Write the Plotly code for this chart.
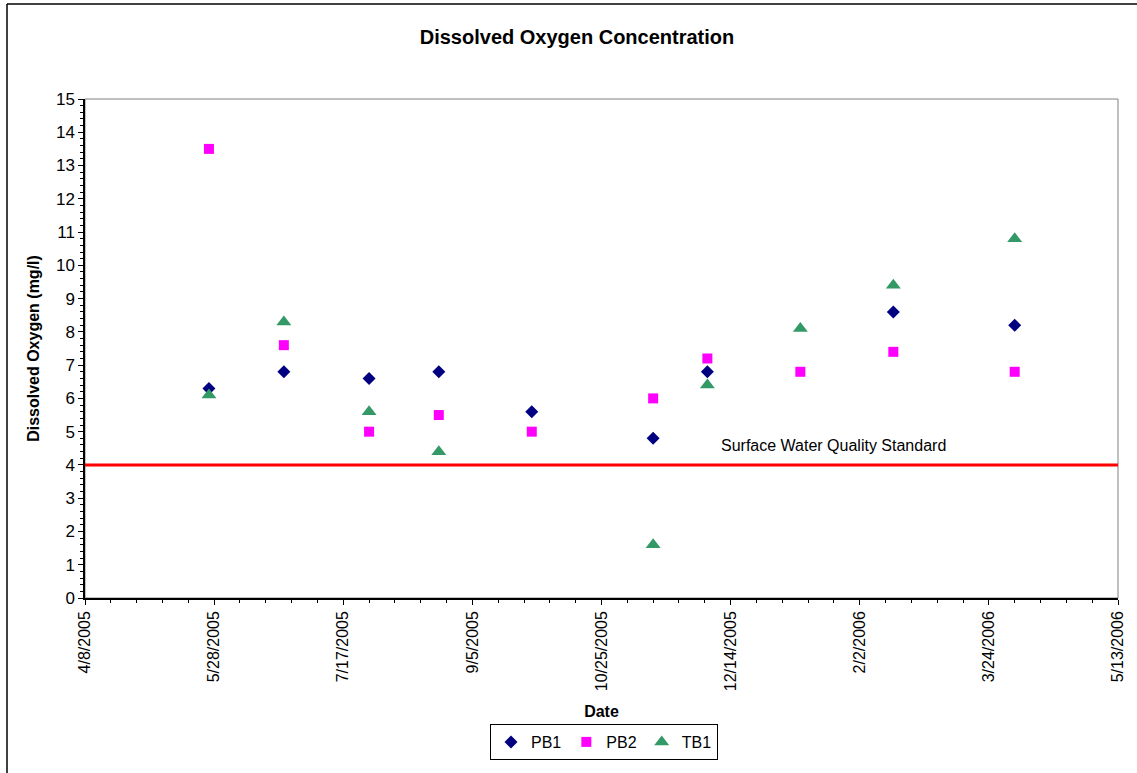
import plotly.graph_objects as go

dates = ["2005-05-26", "2005-06-24", "2005-07-27", "2005-08-23", "2005-09-28",
         "2005-11-14", "2005-12-05", "2006-01-10", "2006-02-15", "2006-04-03"]
pb1 = [6.3, 6.8, 6.6, 6.8, 5.6, 4.8, 6.8, None, 8.6, 8.2]
pb2 = [13.5, 7.6, 5.0, 5.5, 5.0, 6.0, 7.2, 6.8, 7.4, 6.8]
tb1 = [6.1, 8.3, 5.6, 4.4, None, 1.6, 6.4, 8.1, 9.4, 10.8]
standard = 4.0
standard_label = "Surface Water Quality Standard"

x_start = "2005-04-08"
x_end = "2006-05-13"
tick_dates = ["2005-04-08", "2005-05-28", "2005-07-17", "2005-09-05", "2005-10-25",
              "2005-12-14", "2006-02-02", "2006-03-24", "2006-05-13"]

FONT = "Liberation Sans, Arial, sans-serif"

fig = go.Figure()
fig.add_trace(go.Scatter(x=dates, y=pb1, mode="markers", name="PB1",
                         marker=dict(symbol="diamond", size=10, color="#000080")))
fig.add_trace(go.Scatter(x=dates, y=pb2, mode="markers", name="PB2",
                         marker=dict(symbol="square", size=10, color="#FF00FF")))
fig.add_trace(go.Scatter(x=dates, y=tb1, mode="markers", name="TB1",
                         marker=dict(symbol="triangle-up", size=13, color="#339966")))

# standard line across the plot
fig.add_shape(type="line", xref="paper", yref="y", x0=0, x1=1, y0=standard, y1=standard,
              line=dict(color="#FF0000", width=3), layer="above")
fig.add_annotation(x="2006-01-23", y=standard, yref="y", xref="x", text=standard_label,
                   showarrow=False, yshift=19, font=dict(family=FONT, size=16, color="#000000"))

# plot area border (gray top/right)
fig.add_shape(type="rect", xref="paper", yref="paper", x0=0, x1=1, y0=0, y1=1,
              line=dict(color="#808080", width=1), layer="below")

# outer chart border (top & left)
L, R, T, B = 85, 19, 99, 175
W, H = 1137, 773
pw, ph = W - L - R, H - T - B
def px_x(p):
    return (p - L) / pw
def px_y(p):
    return (H - B - p) / ph
fig.add_shape(type="line", xref="paper", yref="paper", x0=px_x(7), x1=px_x(1140),
              y0=px_y(4), y1=px_y(4), line=dict(color="#000000", width=1.5))
fig.add_shape(type="line", xref="paper", yref="paper", x0=px_x(7), x1=px_x(7),
              y0=px_y(4), y1=px_y(780), line=dict(color="#000000", width=1.5))

fig.update_layout(
    width=W, height=H,
    margin=dict(l=L, r=R, t=T, b=B),
    paper_bgcolor="white", plot_bgcolor="white",
    font=dict(family=FONT, size=16, color="#000000"),
    title=dict(text="<b>Dissolved Oxygen Concentration</b>", x=577 / W, xanchor="center",
               y=1 - 37 / H, yanchor="middle", font=dict(family=FONT, size=20)),
    showlegend=True,
    legend=dict(orientation="h", x=px_x(604), xanchor="center", y=px_y(742), yanchor="middle",
                bordercolor="#000000", borderwidth=1, font=dict(family=FONT, size=16),
                itemwidth=30, tracegroupgap=0),
)

fig.update_xaxes(
    type="date", range=[x_start, x_end],
    tickvals=tick_dates, tickformat="%-m/%-d/%Y", tickangle=-90,
    showgrid=False, zeroline=False, showline=True, linecolor="#000000", linewidth=1.5,
    ticks="outside", ticklen=5, tickcolor="#000000",
    minor=dict(dtick=10 * 86400000, tick0=x_start, ticks="outside", ticklen=3, tickcolor="#000000"),
    tickfont=dict(family=FONT, size=16),
    title=dict(text="<b>Date</b>", font=dict(family=FONT, size=16), standoff=16),
)
fig.update_yaxes(
    range=[0, 15], dtick=1, tick0=0,
    showgrid=False, zeroline=False, showline=True, linecolor="#000000", linewidth=1.5,
    ticks="outside", ticklen=5, tickcolor="#000000",
    minor=dict(dtick=0.2, ticks="outside", ticklen=3, tickcolor="#000000"),
    tickfont=dict(family=FONT, size=17),
    title=dict(text="<b>Dissolved Oxygen (mg/l)</b>", font=dict(family=FONT, size=16), standoff=12),
)

fig.write_html("out.html", config={"displayModeBar": False},
               post_script="document.body.style.margin='0';")
